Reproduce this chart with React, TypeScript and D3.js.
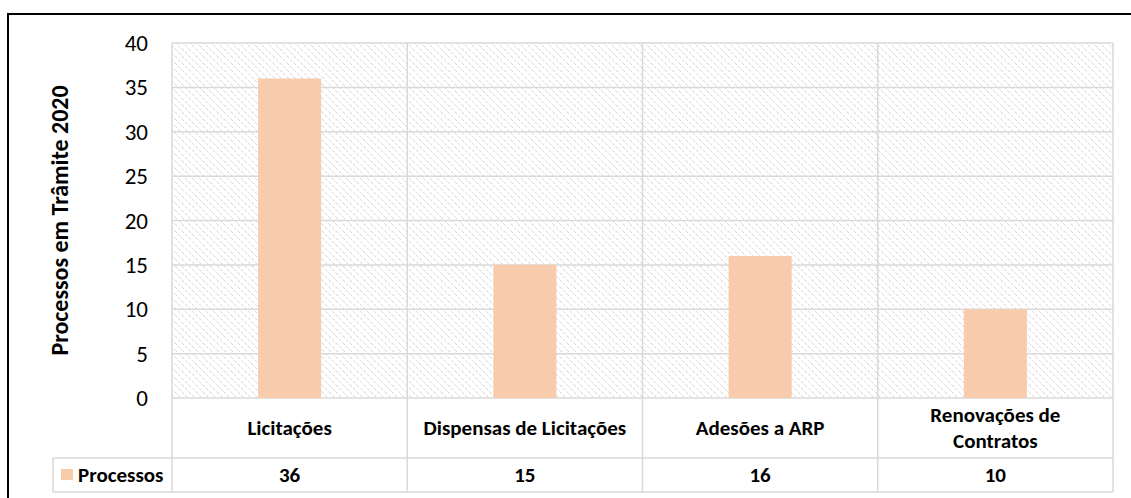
import * as d3 from "d3";

const categories = [
  ["Licitações"],
  ["Dispensas de Licitações"],
  ["Adesões a ARP"],
  ["Renovações de", "Contratos"],
];
const values = [36, 15, 16, 10];
const seriesName = "Processos";
const yTicks = [0, 5, 10, 15, 20, 25, 30, 35, 40];
const yTitle = "Processos em Trâmite 2020";

const font = "Carlito, Lato, 'Open Sans', sans-serif";
const gridColor = "#d9d9d9";
const barColor = "#f8cbad";

export default function App() {
  const width = 1131;
  const height = 498;
  const plot = { left: 172, right: 1113, top: 43, bottom: 398 };
  const tableRow = { top: 458, bottom: 492, legendLeft: 53 };

  const keys = categories.map((c) => c.join(" "));

  const cellScale = d3
    .scaleBand()
    .domain(keys)
    .range([plot.left, plot.right])
    .padding(0);

  const xScale = d3
    .scaleBand()
    .domain(keys)
    .range([plot.left, plot.right])
    .paddingInner(0.732)
    .paddingOuter(0.366);

  const yScale = d3
    .scaleLinear()
    .domain([0, 40])
    .range([plot.bottom, plot.top]);

  const cellEdges = keys.map((k) => cellScale(k)!).concat([plot.right]);

  return (
    <svg
      width={width}
      height={height}
      style={{ position: "absolute", left: 0, top: 0, background: "#fff" }}
    >
      <defs>
        <pattern
          id="hatch"
          patternUnits="userSpaceOnUse"
          width={7}
          height={7}
        >
          <rect width={7} height={7} fill="#fff" />
          <path
            d="M0,0 L7,7 M-1,6 L1,8 M6,-1 L8,1"
            stroke="#d4d4d4"
            strokeWidth={1}
            strokeDasharray="3 1.5"
          />
        </pattern>
      </defs>

      {/* outer frame */}
      <rect
        x={8}
        y={14}
        width={width + 20}
        height={height + 20}
        fill="none"
        stroke="#000"
        strokeWidth={2}
      />

      {/* plot area background */}
      <rect
        x={plot.left}
        y={plot.top}
        width={plot.right - plot.left}
        height={plot.bottom - plot.top}
        fill="url(#hatch)"
      />

      {/* horizontal gridlines */}
      {yTicks.map((t) => (
        <line
          key={"g" + t}
          x1={plot.left}
          x2={plot.right}
          y1={yScale(t)}
          y2={yScale(t)}
          stroke={gridColor}
          strokeWidth={1.5}
        />
      ))}

      {/* vertical category lines through plot and table */}
      {cellEdges.map((x, i) => (
        <line
          key={"v" + i}
          x1={x}
          x2={x}
          y1={plot.top}
          y2={tableRow.bottom}
          stroke={gridColor}
          strokeWidth={1.5}
        />
      ))}

      {/* table lines */}
      <line
        x1={tableRow.legendLeft}
        x2={plot.right}
        y1={tableRow.top}
        y2={tableRow.top}
        stroke={gridColor}
        strokeWidth={1.5}
      />
      <line
        x1={tableRow.legendLeft}
        x2={plot.right}
        y1={tableRow.bottom}
        y2={tableRow.bottom}
        stroke={gridColor}
        strokeWidth={1.5}
      />
      <line
        x1={tableRow.legendLeft}
        x2={tableRow.legendLeft}
        y1={tableRow.top}
        y2={tableRow.bottom}
        stroke={gridColor}
        strokeWidth={1.5}
      />

      {/* bars */}
      {keys.map((k, i) => (
        <rect
          key={"b" + k}
          x={xScale(k)}
          y={yScale(values[i])}
          width={xScale.bandwidth()}
          height={yScale(0) - yScale(values[i])}
          fill={barColor}
        />
      ))}

      {/* y tick labels */}
      {yTicks.map((t) => (
        <text
          key={"t" + t}
          x={148}
          y={yScale(t)}
          textAnchor="end"
          dominantBaseline="central"
          fontFamily={font}
          fontSize={23}
          fill="#000"
        >
          {t}
        </text>
      ))}

      {/* y title */}
      <text
        transform={`translate(68,${(plot.top + plot.bottom) / 2}) rotate(-90)`}
        textAnchor="middle"
        fontFamily={font}
        fontSize={24}
        fontWeight="bold"
        fill="#000"
      >
        {yTitle}
      </text>

      {/* category labels */}
      {categories.map((lines, i) => {
        const cx = cellScale(keys[i])! + cellScale.bandwidth() / 2;
        const cy = (plot.bottom + tableRow.top) / 2;
        const lh = 26;
        return lines.map((ln, j) => (
          <text
            key={"c" + i + j}
            x={cx}
            y={cy + (j - (lines.length - 1) / 2) * lh}
            textAnchor="middle"
            dominantBaseline="central"
            fontFamily={font}
            fontSize={21}
            fontWeight="bold"
            fill="#000"
          >
            {ln}
          </text>
        ));
      })}

      {/* legend key + value row */}
      <rect x={61} y={469} width={12} height={11} fill={barColor} />
      <text
        x={78}
        y={(tableRow.top + tableRow.bottom) / 2}
        dominantBaseline="central"
        fontFamily={font}
        fontSize={21}
        fontWeight="bold"
        fill="#000"
      >
        {seriesName}
      </text>
      {values.map((v, i) => (
        <text
          key={"val" + i}
          x={cellScale(keys[i])! + cellScale.bandwidth() / 2}
          y={(tableRow.top + tableRow.bottom) / 2}
          textAnchor="middle"
          dominantBaseline="central"
          fontFamily={font}
          fontSize={21}
          fontWeight="bold"
          fill="#000"
        >
          {v}
        </text>
      ))}
    </svg>
  );
}
